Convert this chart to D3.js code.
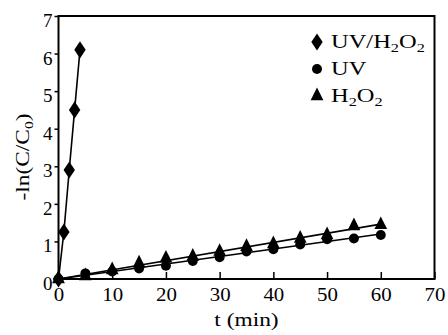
<!DOCTYPE html>
<html><head><meta charset="utf-8">
<script src="https://cdn.jsdelivr.net/npm/d3@7"></script>
<style>
html,body{margin:0;padding:0;background:#fff;}
text{font-family:"Liberation Serif","Times New Roman",serif;fill:#000;}
</style></head>
<body><svg id="c" width="448" height="335"></svg>
<script>
// ---- data ----
const uvh2o2Time = [0, 1, 2, 3, 4];
const uvh2o2Values = [0, 1.25, 2.9, 4.5, 6.1];
const time = [0, 5, 10, 15, 20, 25, 30, 35, 40, 45, 50, 55, 60];
const uvValues = [0, 0.15, 0.2, 0.28, 0.35, 0.48, 0.58, 0.73, 0.79, 0.92, 1.06, 1.08, 1.17];
const h2o2Values = [0, 0.08, 0.24, 0.42, 0.55, 0.6, 0.73, 0.86, 0.93, 1.08, 1.17, 1.41, 1.44];
const xTicks = [0, 10, 20, 30, 40, 50, 60, 70];
const yTicks = [0, 1, 2, 3, 4, 5, 6, 7];
const legendLabels = ["UV/H2O2", "UV", "H2O2"];

const svg = d3.select("#c");
const L = 58.5, R = 434.5, T = 16, B = 279;
const x = d3.scaleLinear().domain([0, 70]).range([L, R]);
const y = d3.scaleLinear().domain([0, 7]).range([B, T]);

// fitted lines through origin
function slope(ts, vs){ let a=0,b=0; ts.forEach((t,i)=>{a+=t*vs[i];b+=t*t;}); return a/b; }
const kUV = slope(time, uvValues), kH = slope(time, h2o2Values);

const line = d3.line().x(d=>x(d[0])).y(d=>y(d[1]));
const g = svg.append("g");
g.append("path").attr("d", line(uvh2o2Time.map((t,i)=>[t,uvh2o2Values[i]])))
  .attr("fill","none").attr("stroke","#000").attr("stroke-width",1.6);
g.append("path").attr("d", line([[0,0],[60,kUV*60]])).attr("fill","none").attr("stroke","#000").attr("stroke-width",1.6);
g.append("path").attr("d", line([[0,0],[60,kH*60]])).attr("fill","none").attr("stroke","#000").attr("stroke-width",1.6);

const sym = {
  diamond: d3.symbol().type(d3.symbolDiamond).size(85),
  circle: d3.symbol().type(d3.symbolCircle).size(78),
  triangle: d3.symbol().type(d3.symbolTriangle).size(70)
};
function drawPts(ts, vs, s, sx, sy){
  g.selectAll(null).data(ts.map((t,i)=>[t,vs[i]])).enter().append("path")
    .attr("d", s).attr("transform", d=>`translate(${x(d[0])},${y(d[1])}) scale(${sx},${sy})`).attr("fill","#000");
}
drawPts(time, h2o2Values, sym.triangle, 1, 1.15);
drawPts(time, uvValues, sym.circle, 1, 1);
drawPts(uvh2o2Time, uvh2o2Values, sym.diamond, 1.15, 1);

// frame
svg.append("rect").attr("x",L).attr("y",T).attr("width",R-L).attr("height",B-T)
  .attr("fill","none").attr("stroke","#000").attr("stroke-width",2);

// x axis ticks (inward)
const xa = d3.axisBottom(x).tickValues(xTicks).tickFormat(d3.format("d")).tickSizeInner(-7).tickSizeOuter(0).tickPadding(8);
const gx = svg.append("g").attr("transform",`translate(0,${B})`).call(xa);
gx.attr("font-family",null);
gx.select(".domain").remove();
gx.selectAll("line").attr("stroke","#000").attr("stroke-width",1.5);
gx.selectAll(".tick text").attr("font-size",19).attr("dy","0.72em").attr("transform","scale(1.1,1)");

const ya = d3.axisLeft(y).tickValues(yTicks).tickFormat(d3.format("d")).tickSizeInner(4).tickSizeOuter(0).tickPadding(2);
const gy = svg.append("g").attr("transform",`translate(${L},0)`).call(ya);
gy.attr("font-family",null);
gy.select(".domain").remove();
gy.selectAll("line").attr("stroke","#000").attr("stroke-width",1.5);
gy.selectAll(".tick text").attr("font-size",19).attr("dy","0.55em");

// axis titles
svg.append("text").attr("transform",`translate(${(L+R)/2},326) scale(1.3,1)`).attr("text-anchor","middle")
  .attr("font-size",18).text("t (min)");
const yt = svg.append("text").attr("transform","translate(29,157) rotate(-90) scale(1.3,1)").attr("text-anchor","middle").attr("font-size",18);
yt.append("tspan").text("-ln(C/C");
yt.append("tspan").attr("font-size",12).attr("dy",4).text("0");
yt.append("tspan").attr("dy",-4).text(")");

// legend
function chem(sel, label){
  if(label === "UV") { sel.append("tspan").text("UV"); return; }
  const parts = label === "UV/H2O2" ? ["UV/H","2","O","2"] : ["H","2","O","2"];
  parts.forEach((p,i)=>{
    const sub = p === "2";
    sel.append("tspan").attr("font-size", sub?12:18).attr("dy", sub?4:(i>0?-4:0)).text(p);
  });
}
const legSyms = [sym.diamond, sym.circle, sym.triangle];
const legScale = [[1.15,1],[1,1],[1,1.15]];
legendLabels.forEach((lab,i)=>{
  const yy = 42 + i*27;
  svg.append("path").attr("d", legSyms[i]).attr("transform",`translate(317,${yy}) scale(${legScale[i][0]},${legScale[i][1]})`).attr("fill","#000");
  const t = svg.append("text").attr("transform",`translate(331,${yy+6}) scale(1.36,1)`).attr("font-size",18);
  chem(t, lab);
});
</script></body></html>
